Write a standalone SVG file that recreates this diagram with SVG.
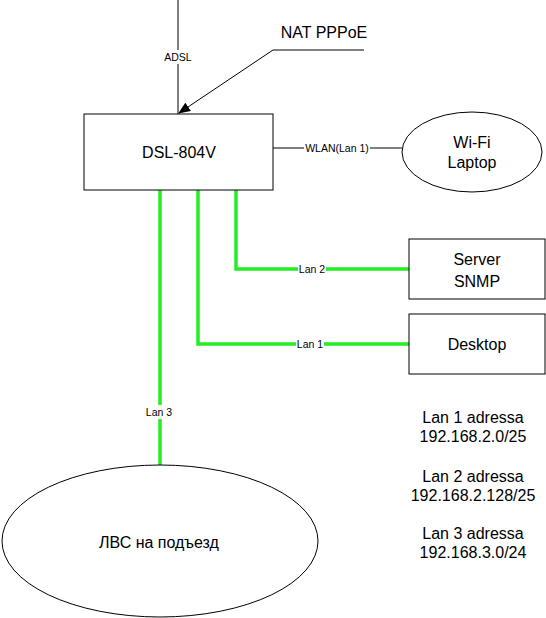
<svg xmlns="http://www.w3.org/2000/svg" width="546" height="618" viewBox="0 0 546 618">
<style>
text{font-family:"Liberation Sans",Arial,sans-serif;fill:#000;text-anchor:middle}
.big{font-size:16px}
.sm{font-size:10.5px}
.shape{fill:#fff;stroke:#000;stroke-width:1}
.blk{fill:none;stroke:#000;stroke-width:1}
.grn{fill:none;stroke:#22ee22;stroke-width:3.5}
.lbl{fill:#fff;stroke:none}
</style>
<defs>
<marker id="arr" markerWidth="12" markerHeight="10" refX="11" refY="5" orient="auto" markerUnits="userSpaceOnUse">
<path d="M0,0 L12,5 L0,10 z" fill="#000"/>
</marker>
</defs>
<rect width="546" height="618" fill="#fff"/>
<g id="connectors">
<line class="blk" x1="178" y1="0" x2="178" y2="114"/>
<rect class="lbl" x="162" y="50" width="32" height="14"/>
<text class="sm" x="178" y="61">ADSL</text>
<polyline class="blk" points="364,50 273,50 179,113" marker-end="url(#arr)"/>
<line class="blk" x1="273" y1="148" x2="402" y2="148"/>
<rect class="lbl" x="304" y="141" width="66" height="14"/>
<text class="sm" x="337" y="152">WLAN(Lan 1)</text>
<polyline class="grn" points="236,190 236,269 409,269"/>
<rect class="lbl" x="298" y="262" width="28" height="14"/>
<text class="sm" x="312" y="273">Lan 2</text>
<polyline class="grn" points="198,190 198,344 409,344"/>
<rect class="lbl" x="296" y="337" width="28" height="14"/>
<text class="sm" x="310" y="348">Lan 1</text>
<line class="grn" x1="160" y1="190" x2="160" y2="465"/>
<rect class="lbl" x="146" y="405" width="28" height="14"/>
<text class="sm" x="159" y="416">Lan 3</text>
</g>
<g id="dsl">
<rect class="shape" x="84" y="114" width="189" height="76"/>
<text class="big" x="179" y="158">DSL-804V</text>
</g>
<g id="nat-label">
<text class="big" x="324" y="38">NAT PPPoE</text>
</g>
<g id="wifi">
<ellipse class="shape" cx="472" cy="152" rx="70" ry="40"/>
<text class="big" x="472" y="148">Wi-Fi</text>
<text class="big" x="472" y="168">Laptop</text>
</g>
<g id="server">
<rect class="shape" x="409" y="239" width="136" height="60"/>
<text class="big" x="477" y="265">Server</text>
<text class="big" x="477" y="287">SNMP</text>
</g>
<g id="desktop">
<rect class="shape" x="409" y="314" width="136" height="60"/>
<text class="big" x="477" y="350">Desktop</text>
</g>
<g id="lvs">
<ellipse class="shape" cx="160" cy="541" rx="158" ry="76"/>
<text class="big" x="159" y="548">ЛВС на подъезд</text>
</g>
<g id="addresses">
<text class="big" x="473" y="423">Lan 1 adressa</text>
<text class="big" x="473" y="442">192.168.2.0/25</text>
<text class="big" x="473" y="482">Lan 2 adressa</text>
<text class="big" x="473" y="501">192.168.2.128/25</text>
<text class="big" x="473" y="539">Lan 3 adressa</text>
<text class="big" x="473" y="558">192.168.3.0/24</text>
</g>
</svg>
